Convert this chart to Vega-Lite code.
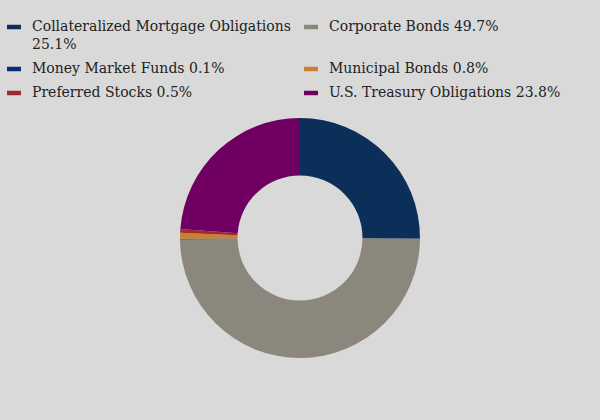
{
  "$schema": "https://vega.github.io/schema/vega-lite/v6.json",
  "width": 600,
  "height": 364,
  "autosize": "none",
  "padding": {"top": 56, "left": 0, "right": 0, "bottom": 0},
  "background": "#d9d9d9",
  "config": {"view": {"stroke": null}, "font": "DejaVu Serif"},
  "data": {
    "values": [
      {"category": "Collateralized Mortgage Obligations 25.1%", "value": 25.1, "order": 1},
      {"category": "Corporate Bonds 49.7%", "value": 49.7, "order": 2},
      {"category": "Money Market Funds 0.1%", "value": 0.1, "order": 3},
      {"category": "Municipal Bonds 0.8%", "value": 0.8, "order": 4},
      {"category": "Preferred Stocks 0.5%", "value": 0.5, "order": 5},
      {"category": "U.S. Treasury Obligations 23.8%", "value": 23.8, "order": 6}
    ]
  },
  "mark": {"type": "arc", "outerRadius": 120, "innerRadius": 62.5},
  "encoding": {
    "theta": {"field": "value", "type": "quantitative", "stack": true},
    "order": {"field": "order", "type": "quantitative"},
    "color": {
      "field": "category",
      "type": "nominal",
      "sort": null,
      "scale": {
        "domain": [
          "Collateralized Mortgage Obligations 25.1%",
          "Corporate Bonds 49.7%",
          "Money Market Funds 0.1%",
          "Municipal Bonds 0.8%",
          "Preferred Stocks 0.5%",
          "U.S. Treasury Obligations 23.8%"
        ],
        "range": ["#0c2f5a", "#8c877d", "#0b2a78", "#c8812f", "#9e2a2f", "#6f0062"]
      },
      "legend": {
        "title": null,
        "orient": "none",
        "direction": "horizontal",
        "legendX": 7,
        "legendY": -36,
        "columns": 2,
        "gridAlign": "each",
        "columnPadding": 13,
        "rowPadding": 10,
        "symbolType": "M-1,-0.32L1,-0.32L1,0.32L-1,0.32Z",
        "symbolSize": 196,
        "symbolStrokeWidth": 0,
        "labelFont": "DejaVu Serif",
        "labelFontSize": 14,
        "labelColor": "#222222",
        "labelOffset": 11,
        "labelLimit": 400,
        "labelExpr": "datum.label == 'Collateralized Mortgage Obligations 25.1%' ? ['Collateralized Mortgage Obligations', '25.1%'] : datum.label == 'Corporate Bonds 49.7%' ? ['Corporate Bonds 49.7%', ' '] : datum.label",
        "encode": {"labels": {"update": {"lineHeight": {"value": 18}}}}
      }
    }
  }
}
